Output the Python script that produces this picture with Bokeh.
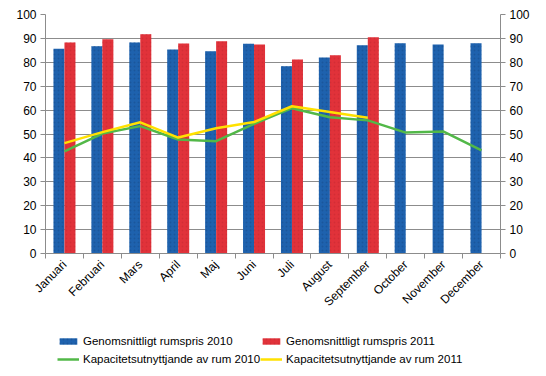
import numpy as np
from bokeh.plotting import figure
from bokeh.layouts import column
from bokeh.models import (ColumnDataSource, FixedTicker, LinearAxis, Range1d,
                          Legend, LegendItem)
from bokeh.embed import file_html
from bokeh.resources import INLINE

months = ["Januari", "Februari", "Mars", "April", "Maj", "Juni", "Juli",
          "August", "September", "October", "November", "December"]
price_2010 = [85.7, 86.7, 88.3, 85.4, 84.6, 87.8, 78.3, 82.0, 87.1, 88.0, 87.5, 88.0]
price_2011 = [88.3, 89.6, 91.7, 87.9, 88.8, 87.5, 81.2, 82.9, 90.5]
occ_2010 = [42.7, 50.2, 53.3, 47.7, 47.0, 54.2, 60.8, 57.0, 55.7, 50.6, 51.0, 43.1]
occ_2011 = [46.2, 50.8, 54.9, 48.5, 52.4, 55.0, 61.6, 59.2, 56.8]
series_names = ["Genomsnittligt rumspris 2010", "Genomsnittligt rumspris 2011",
                "Kapacitetsutnyttjande av rum 2010", "Kapacitetsutnyttjande av rum 2011"]

FONT = "Liberation Sans"
BLUE = "#1E62AE"
RED = "#E1323A"
GREEN = "#52B848"
YELLOW = "#FFE100"
GRID = "#8C8C8C"

n = len(months)
centers = np.arange(n) + 0.5
bw = 0.29

p = figure(width=546, height=316, output_backend="svg", toolbar_location=None,
           x_range=Range1d(0, n), y_range=Range1d(0, 100),
           min_border_left=45, min_border_right=46, min_border_top=14,
           min_border_bottom=63)
p.outline_line_color = None
p.background_fill_color = "white"
p.border_fill_color = "white"

bar_style_b = dict(fill_color=BLUE, line_color=None, hatch_pattern=".",
                   hatch_color="#174f90", hatch_scale=4, hatch_alpha=0.6)
bar_style_r = dict(fill_color=RED, line_color=None, hatch_pattern=".",
                   hatch_color="#c52830", hatch_scale=4, hatch_alpha=0.5)

src_b = ColumnDataSource(dict(x=centers - bw / 2, top=price_2010))
src_r = ColumnDataSource(dict(x=centers[:len(price_2011)] + bw / 2, top=price_2011))
p.vbar(x="x", top="top", width=bw, source=src_b, **bar_style_b)
p.vbar(x="x", top="top", width=bw, source=src_r, **bar_style_r)
p.line(centers, occ_2010, line_color=GREEN, line_width=2.5)
p.line(centers[:len(occ_2011)], occ_2011, line_color=YELLOW, line_width=2.5)

# axes
xa = p.xaxis[0]
xa.ticker = FixedTicker(ticks=list(centers), minor_ticks=list(range(n + 1)))
xa.major_label_overrides = {float(c): m for c, m in zip(centers, months)}
xa.major_label_orientation = np.pi / 4
xa.major_tick_out = 0
xa.major_tick_in = 0
xa.minor_tick_out = 5
xa.minor_tick_in = 0
xa.minor_tick_line_color = GRID
xa.axis_line_color = GRID
xa.major_label_text_font = FONT
xa.major_label_text_font_size = "12px"
xa.major_label_text_color = "black"
xa.major_label_standoff = 4

ya = p.yaxis[0]
ya.ticker = FixedTicker(ticks=list(range(0, 101, 10)))
ya.minor_tick_line_color = None
ya.major_tick_out = 5
ya.major_tick_in = 0
ya.major_tick_line_color = GRID
ya.axis_line_color = GRID
ya.major_label_text_font = FONT
ya.major_label_text_font_size = "12px"
ya.major_label_text_color = "black"
ya.major_label_standoff = 4

ra = LinearAxis(ticker=FixedTicker(ticks=list(range(0, 101, 10))))
ra.minor_tick_line_color = None
ra.major_tick_out = 5
ra.major_tick_in = 0
ra.major_tick_line_color = GRID
ra.axis_line_color = GRID
ra.major_label_text_font = FONT
ra.major_label_text_font_size = "12px"
ra.major_label_text_color = "black"
ra.major_label_standoff = 4
p.add_layout(ra, "right")

p.xgrid.grid_line_color = None
p.ygrid.ticker = FixedTicker(ticks=list(range(0, 101, 10)))
p.ygrid.grid_line_color = GRID

# legend strip (proxy renderers placed below its visible range)
p2 = figure(width=546, height=60, output_backend="svg", toolbar_location=None,
            x_range=Range1d(0, 1), y_range=Range1d(0, 1),
            min_border=0, x_axis_type=None, y_axis_type=None)
p2.outline_line_color = None
p2.grid.grid_line_color = None
p2.border_fill_color = "white"
p2.background_fill_color = "white"
lb = p2.vbar(x=[0.5], top=[-5], bottom=[-6], width=0.1, **bar_style_b)
lr = p2.vbar(x=[0.5], top=[-5], bottom=[-6], width=0.1, **bar_style_r)
lg = p2.line([0.4, 0.6], [-5, -5], line_color=GREEN, line_width=2.5)
ly = p2.line([0.4, 0.6], [-5, -5], line_color=YELLOW, line_width=2.5)

legend = Legend(items=[
    LegendItem(label=series_names[0], renderers=[lb]),
    LegendItem(label=series_names[2], renderers=[lg]),
    LegendItem(label=series_names[1], renderers=[lr]),
    LegendItem(label=series_names[3], renderers=[ly]),
], ncols=2, location=(12, 8), border_line_color=None,
    background_fill_alpha=0, padding=8, margin=0, spacing=0,
    glyph_width=22, glyph_height=8, label_height=18, label_width=175,
    label_standoff=4, label_text_font=FONT, label_text_font_size="11.5px",
    label_text_color="black")
p2.add_layout(legend, "center")

open("out.html", "w").write(file_html(column(p, p2, spacing=0), INLINE))
